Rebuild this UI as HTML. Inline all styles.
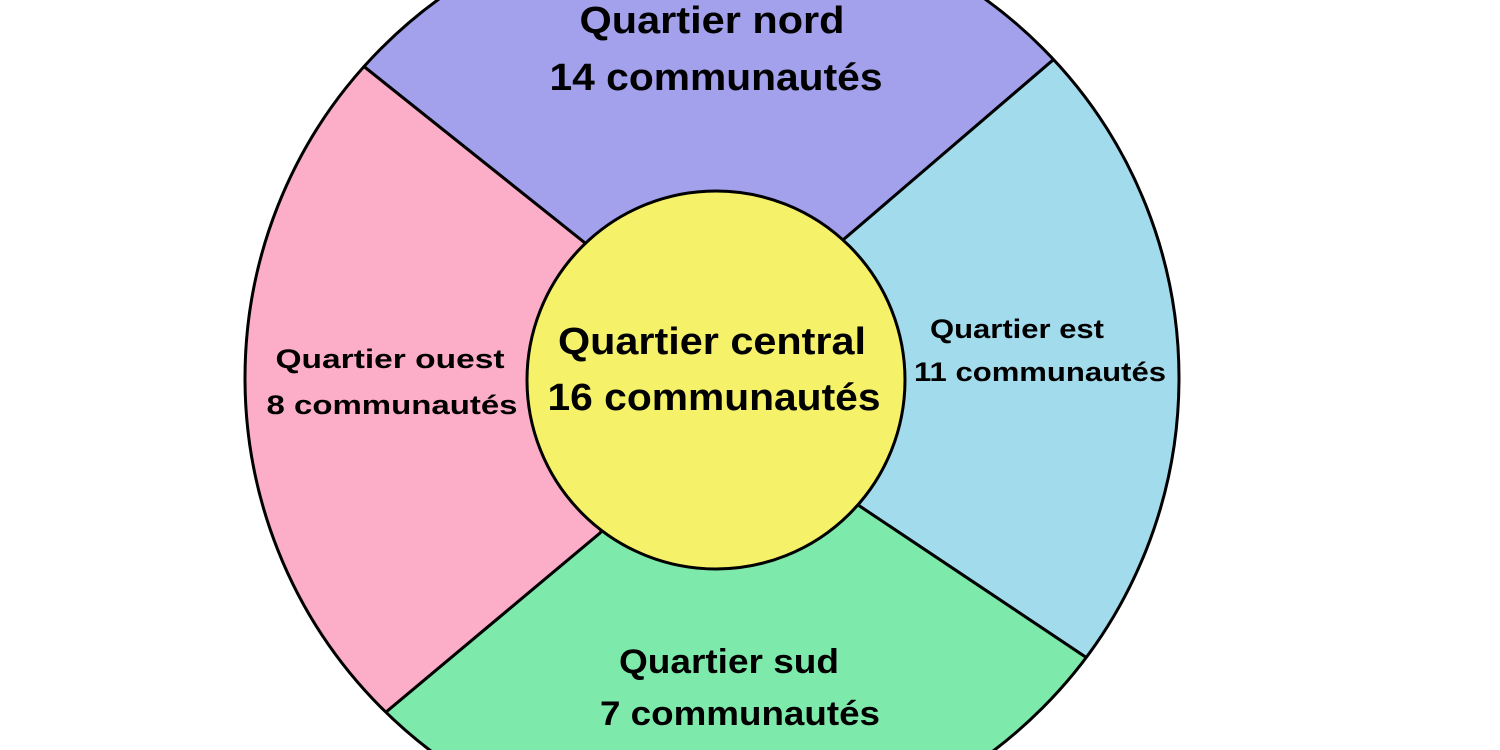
<!DOCTYPE html>
<html><head><meta charset="utf-8"><style>
html,body{margin:0;padding:0;background:#fff;width:1500px;height:750px;overflow:hidden}
svg{display:block}
svg text{font-family:"Liberation Sans",sans-serif;font-weight:bold;fill:#000;text-anchor:middle}
</style></head><body>
<svg width="1500" height="750" viewBox="0 0 1500 750" xmlns="http://www.w3.org/2000/svg">
<defs><clipPath id="c"><circle cx="712" cy="378" r="467"/></clipPath></defs>
<g clip-path="url(#c)" stroke="#000" stroke-width="3" stroke-linejoin="round">
<polygon fill="#a3a0ec" points="716,380 585,243 -54,-267 1452,-282 843,240"/>
<polygon fill="#a2dcec" points="716,380 843,240 1452,-282 1554,970 858,505"/>
<polygon fill="#7de9ab" points="716,380 858,505 1554,970 -60,1085 600,533"/>
<polygon fill="#fcadc8" points="716,380 600,533 -60,1085 -54,-267 585,243"/>
</g>
<circle cx="712" cy="378" r="467" fill="none" stroke="#000" stroke-width="3"/>
<circle cx="716" cy="380" r="189" fill="#f5f169" stroke="#000" stroke-width="3"/>
<text x="712" y="33" font-size="38" textLength="265" lengthAdjust="spacingAndGlyphs">Quartier nord</text>
<text x="716" y="90" font-size="38" textLength="333" lengthAdjust="spacingAndGlyphs">14 communautés</text>
<text x="712" y="354" font-size="38" textLength="308" lengthAdjust="spacingAndGlyphs">Quartier central</text>
<text x="714" y="410" font-size="38" textLength="333" lengthAdjust="spacingAndGlyphs">16 communautés</text>
<text x="390" y="368" font-size="27" textLength="229" lengthAdjust="spacingAndGlyphs">Quartier ouest</text>
<text x="392" y="414" font-size="27" textLength="251" lengthAdjust="spacingAndGlyphs">8 communautés</text>
<text x="1017" y="338" font-size="27" textLength="174" lengthAdjust="spacingAndGlyphs">Quartier est</text>
<text x="1040" y="381" font-size="27" textLength="252" lengthAdjust="spacingAndGlyphs">11 communautés</text>
<text x="729" y="673" font-size="34" textLength="220" lengthAdjust="spacingAndGlyphs">Quartier sud</text>
<text x="740" y="725" font-size="34" textLength="280" lengthAdjust="spacingAndGlyphs">7 communautés</text>
</svg>
</body></html>
